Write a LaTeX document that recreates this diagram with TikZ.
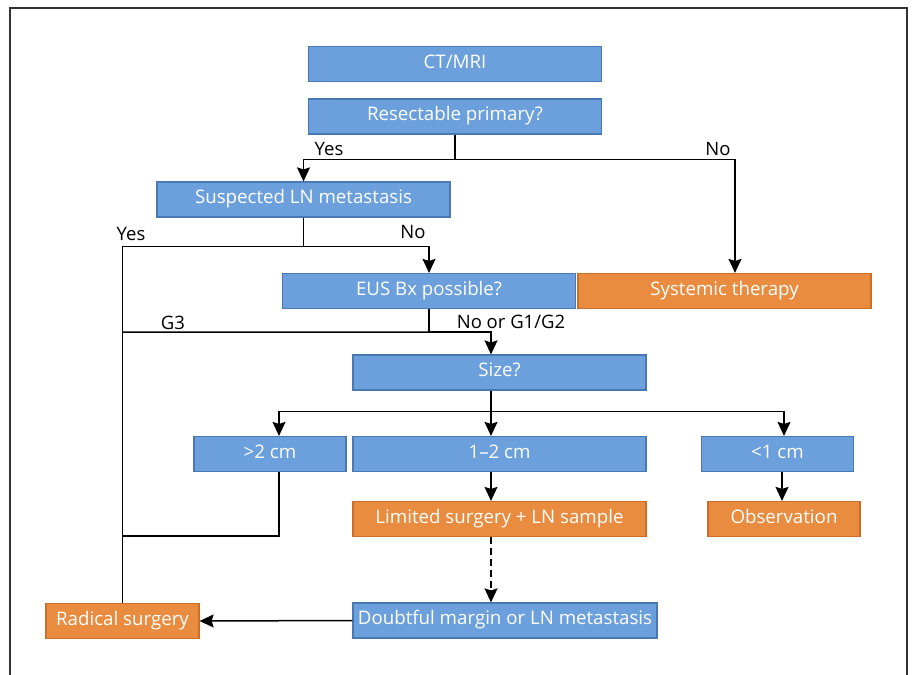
\documentclass[tikz,border=0pt]{standalone}
\usepackage{fontspec}
\setmainfont{Open Sans}
\usetikzlibrary{arrows.meta}
\definecolor{boxblue}{HTML}{6CA0DC}
\definecolor{lineblue}{HTML}{4A78B4}
\definecolor{boxorange}{HTML}{EA8C40}
\definecolor{lineorange}{HTML}{CC6E2A}
\begin{document}
\begin{tikzpicture}[x=1pt,y=-1pt]
    \tikzstyle{box}=[rectangle,draw=lineblue,fill=boxblue,line width=1.2pt,text=white,inner sep=0pt,text height=14pt,text depth=5.5pt,minimum height=35pt,font=\fontsize{18.7}{22}\selectfont]
    \tikzstyle{endbox}=[box,draw=lineorange,fill=boxorange]
    \tikzstyle{arr}=[line width=1.5pt,-{Stealth[length=14pt,width=13pt,inset=2pt]}]
    \tikzstyle{ln}=[line width=1.5pt]
    \tikzstyle{lbl}=[inner sep=0pt,font=\fontsize{18.5}{22}\selectfont]
    \useasboundingbox (0,0) rectangle (912,674);
    \draw[line width=2pt,black!80] (10,690) -- (10,8.5) -- (906.5,8.5) -- (906.5,690);

    \node (ct)[box,minimum width=293pt] at (455,64) {CT/MRI};
    \node (resect)[box,minimum width=293pt] at (455,116.5) {Resectable primary?};
    \node (susp)[box,minimum width=293pt] at (303.5,199.5) {Suspected LN metastasis};
    \node (eus)[box,minimum width=293pt] at (429,291) {EUS Bx possible?};
    \node (syst)[endbox,minimum width=293pt] at (724.5,291) {Systemic therapy};
    \node (size)[box,minimum width=293pt] at (499.5,372.5) {Size?};
    \node (gt)[box,minimum width=152pt] at (270,454) {>2 cm};
    \node (mid)[box,minimum width=293pt] at (499.5,454) {1–2 cm};
    \node (lt)[box,minimum width=152pt] at (777.5,454) {<1 cm};
    \node (lim)[endbox,minimum width=293pt] at (499.5,519) {Limited surgery + LN sample};
    \node (obs)[endbox,minimum width=152pt] at (784,519) {Observation};
    \node (doubt)[box,minimum width=304pt] at (505,620.5) {Doubtful margin or LN metastasis};
    \node (rad)[endbox,minimum width=153pt] at (122.5,621) {Radical surgery};

    \coordinate (g3) at (122.5,332);
    \coordinate (big) at (122.5,536);

    \draw[arr] (resect.south) -- ++(0,25) -| (susp.north);
    \draw[arr] (resect.south) -- ++(0,25) -| ([xshift=10.5pt]syst.north);
    \draw[arr] (susp.south) -- ++(0,29) -| (eus.north);
    \draw[ln] (susp.south) -- ++(0,29) -| (rad.north);
    \draw[arr] (eus.south) -- ++(0,23) -| ([xshift=-8.5pt]size.north);
    \draw[ln] (eus.south) -- ++(0,23) -- (g3);
    \draw[arr] ([xshift=-8.5pt]size.south) -- ++(0,21) -| ([xshift=9pt]gt.north);
    \draw[arr] ([xshift=-8.5pt]size.south) -- ([xshift=-8.5pt]mid.north);
    \draw[arr] ([xshift=-8.5pt]size.south) -- ++(0,21) -| ([xshift=6.5pt]lt.north);
    \draw[ln] ([xshift=9pt]gt.south) |- (big);
    \path ([xshift=-8.5pt]mid.south) edge[arr] ([xshift=-8.5pt]lim.north);
    \path ([xshift=4.5pt]lt.south) edge[arr] ([xshift=4.5pt]lt.south |- obs.north);
    \path ([xshift=-8.5pt]lim.south) edge[arr,dash pattern=on 7pt off 4pt] ([xshift=-8.5pt]lim.south |- doubt.north);
    \path (doubt.west) edge[arr] (rad.east);

    \node (yes1)[lbl] at (329,149) {Yes};
    \node (no1)[lbl] at (718,149) {No};
    \node (yes2)[lbl] at (131,234) {Yes};
    \node (no2)[lbl] at (413,232) {No};
    \node (g3lbl)[lbl] at (173,323) {G3};
    \node (nog)[lbl] at (511,322) {No or G1/G2};
\end{tikzpicture}
\end{document}
